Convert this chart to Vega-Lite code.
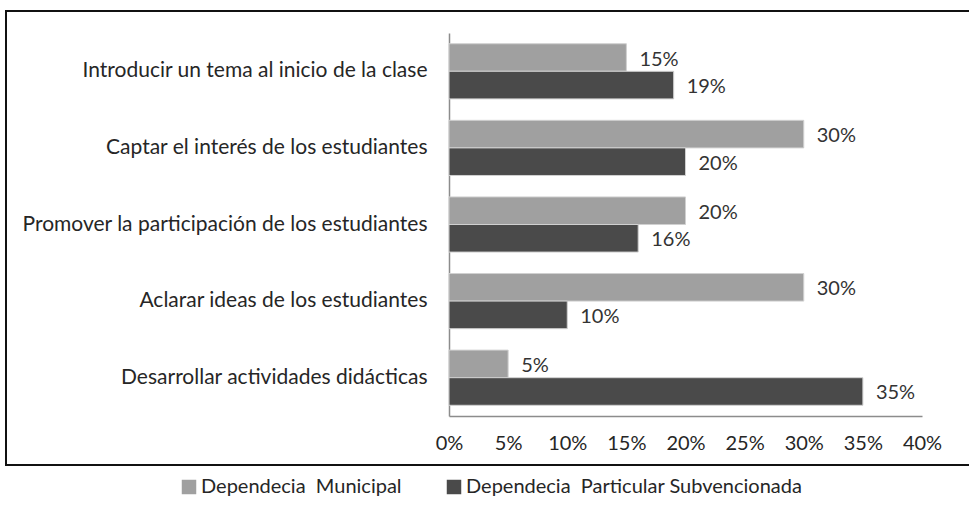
{
  "$schema": "https://vega.github.io/schema/vega-lite/v6.json",
  "autosize": {"type": "none"},
  "width": 975,
  "height": 454,
  "padding": {"left": 6, "top": 11, "right": 0, "bottom": 43},
  "background": "white",
  "config": {
    "font": "Lato",
    "view": {"stroke": "#111111", "strokeWidth": 2},
    "axis": {"labelFont": "Lato", "labelFontSize": 20, "labelColor": "#262626"},
    "legend": {"labelFont": "Lato", "labelFontSize": 20, "labelColor": "#262626"}
  },
  "data": {
    "values": [
      {"categoria": "Introducir un tema al inicio de la clase", "serie": "Dependecia\u00a0 Municipal", "valor": 0.15},
      {"categoria": "Introducir un tema al inicio de la clase", "serie": "Dependecia\u00a0 Particular Subvencionada", "valor": 0.19},
      {"categoria": "Captar el interés de los estudiantes", "serie": "Dependecia\u00a0 Municipal", "valor": 0.30},
      {"categoria": "Captar el interés de los estudiantes", "serie": "Dependecia\u00a0 Particular Subvencionada", "valor": 0.20},
      {"categoria": "Promover la participación de los estudiantes", "serie": "Dependecia\u00a0 Municipal", "valor": 0.20},
      {"categoria": "Promover la participación de los estudiantes", "serie": "Dependecia\u00a0 Particular Subvencionada", "valor": 0.16},
      {"categoria": "Aclarar ideas de los estudiantes", "serie": "Dependecia\u00a0 Municipal", "valor": 0.30},
      {"categoria": "Aclarar ideas de los estudiantes", "serie": "Dependecia\u00a0 Particular Subvencionada", "valor": 0.10},
      {"categoria": "Desarrollar actividades didácticas", "serie": "Dependecia\u00a0 Municipal", "valor": 0.05},
      {"categoria": "Desarrollar actividades didácticas", "serie": "Dependecia\u00a0 Particular Subvencionada", "valor": 0.35}
    ]
  },
  "encoding": {
    "y": {
      "field": "categoria",
      "type": "nominal",
      "sort": null,
      "title": null,
      "scale": {"range": [22, 405], "paddingInner": 0.28, "paddingOuter": 0.14},
      "axis": {
        "offset": -443,
        "domainColor": "#8c8c8c",
        "domainWidth": 1.5,
        "ticks": false,
        "labelPadding": 22,
        "labelLimit": 0,
        "labelFontSize": 21
      }
    },
    "yOffset": {"field": "serie", "type": "nominal", "sort": null},
    "x": {
      "field": "valor",
      "type": "quantitative",
      "title": null,
      "scale": {"domain": [0, 0.4], "range": [443, 916]},
      "axis": {
        "offset": -49,
        "values": [0, 0.05, 0.1, 0.15, 0.2, 0.25, 0.3, 0.35, 0.4],
        "format": ".0%",
        "grid": false,
        "ticks": false,
        "labelFlush": false,
        "domainColor": "#8c8c8c",
        "domainWidth": 1.5,
        "labelPadding": 17
      }
    }
  },
  "layer": [
    {
      "mark": {"type": "bar", "stroke": "#d0d0d0", "strokeWidth": 1},
      "encoding": {
        "color": {
          "field": "serie",
          "type": "nominal",
          "sort": null,
          "scale": {"range": ["#a0a0a0", "#4a4a4a"]},
          "legend": {
            "orient": "none",
            "legendX": 173,
            "legendY": 466,
            "direction": "horizontal",
            "title": null,
            "symbolType": "square",
            "symbolSize": 210,
            "symbolStrokeWidth": 0,
            "columnPadding": 42,
            "labelOffset": 2,
            "labelLimit": 0
          }
        }
      }
    },
    {
      "mark": {"type": "text", "align": "left", "baseline": "middle", "dx": 13, "dy": 2, "fontSize": 20, "color": "#333333"},
      "encoding": {"text": {"field": "valor", "format": ".0%"}}
    }
  ]
}
